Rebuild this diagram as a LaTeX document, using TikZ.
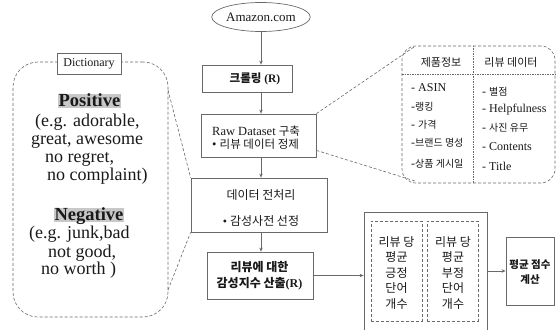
\documentclass[tikz,border=0pt]{standalone}
\usepackage{fontspec}
\setmainfont{Liberation Serif}
\newfontfamily\kr{Noto Sans CJK KR}
\usetikzlibrary{shapes.geometric,arrows.meta,calc}
\definecolor{linegray}{RGB}{105,105,105}
\definecolor{ink}{RGB}{25,25,25}
\definecolor{hl}{RGB}{200,200,200}
\begin{document}
\begin{tikzpicture}[x=1pt,y=-1pt,
  arr/.style={draw=linegray, line width=0.7pt, -{Stealth[length=4pt,width=3.5pt]}},
  dsh/.style={draw=linegray, dash pattern=on 3pt off 2pt, line width=0.6pt},
  dot/.style={draw=linegray, dash pattern=on 1.5pt off 1pt, line width=0.6pt},
  box/.style={draw=linegray, line width=0.8pt, fill=white, inner sep=0pt},
  txt/.style={text=ink, inner sep=0pt},
  hlbox/.style={fill=hl, text=ink, inner xsep=1pt, inner ysep=0.5pt, text height=12.5pt, text depth=1pt, font=\fontsize{18.5}{20}\selectfont\bfseries},
  dline/.style={txt, anchor=base west, font=\fontsize{18}{20}\selectfont},
  item/.style={txt, anchor=west},
]
\useasboundingbox (0,0) rectangle (559,329);
\clip (0,0) rectangle (559,329);

% Dictionary
\node[dsh, rounded corners=25pt, minimum width=155pt, minimum height=255pt, inner sep=0pt] (dict) at (90.5,189.5) {};
\node[box, minimum width=64pt, minimum height=21pt, text=ink, font=\fontsize{12}{14}\selectfont] (dlab) at (89,63.5) {Dictionary};
\node[hlbox] (pos) at (89.5,101) {Positive};
\node[dline] (p1) at (35,126) {(e.g. adorable,};
\node[dline] (p2) at (31,144) {great, awesome};
\node[dline] (p3) at (45,162) {no regret,};
\node[dline] (p4) at (47,180) {no complaint)};
\node[hlbox] (neg) at (89,215) {Negative};
\node[dline] (n1) at (29,238) {(e.g. junk,bad};
\node[dline] (n2) at (48,257) {not good,};
\node[dline] (n3) at (41,274) {no worth )};

% Main flow
\node[ellipse, draw=linegray, line width=0.7pt, minimum width=77pt, minimum height=29pt, inner sep=0pt, text=ink, font=\fontsize{13}{15}\selectfont] (amz) at (261,17) {Amazon.com};
\node[box, minimum width=90pt, minimum height=27pt] (crawl) at (247,78.5) {};
\node[txt, font=\fontsize{11.5}{13}\selectfont\bfseries] (crawlt) at (255,79) {{\kr\bfseries 크롤링} (R)};

\node[box, minimum width=115pt, minimum height=43pt] (raw) at (258.5,135.5) {};
\node[txt, anchor=west, align=left, font=\fontsize{12.5}{13.5}\selectfont] (rawt) at (212,137.5) {Raw Dataset {\kr\fontsize{11.5}{13.5}\selectfont 구축}\\• {\kr\fontsize{11.5}{13.5}\selectfont 리뷰 데이터 정제}};

\node[box, minimum width=136pt, minimum height=54pt] (pre) at (259,205) {};
\node[txt, align=center, font=\fontsize{12}{26}\selectfont] (pret) at (261,208) {{\kr 데이터 전처리}\\• {\kr 감성사전 선정}};

\node[box, minimum width=106pt, minimum height=47pt] (senti) at (260,275.5) {};
\node[txt, align=center, font=\fontsize{12}{16}\selectfont\bfseries] (sentit) at (259.5,276) {{\kr\bfseries 리뷰에 대한}\\{\kr\bfseries 감성지수 산출}(R)};

\node[box, minimum width=123pt, minimum height=128pt] (big) at (425.5,276) {};
\node[dsh, minimum width=51pt, minimum height=100pt, inner sep=0pt] (inl) at (396.5,271) {};
\node[dsh, minimum width=51pt, minimum height=100pt, inner sep=0pt] (inr) at (452.5,271) {};
\node[txt, align=center, font=\kr\fontsize{12}{15.5}\selectfont] (inlt) at (396.5,273) {리뷰 당\\평균\\긍정\\단어\\개수};
\node[txt, align=center, font=\kr\fontsize{12}{15.5}\selectfont] (inrt) at (453,273) {리뷰 당\\평균\\부정\\단어\\개수};

\node[box, minimum width=48pt, minimum height=68pt] (avg) at (530,271) {};
\node[txt, align=center, font=\kr\fontsize{10.5}{15}\selectfont\bfseries] (avgt) at (530,272.5) {평균 점수\\계산};

% Table
\node[dsh, rounded corners=14pt, minimum width=153pt, minimum height=137pt, inner sep=0pt] (tbl) at (478.5,114.5) {};
\draw[dot] (473,46) -- (473,183);
\draw[dot] (402,74) -- (555,74);
\node[txt, font=\kr\fontsize{11}{13}\selectfont] (h1) at (441,62) {제품정보};
\node[txt, font=\kr\fontsize{11}{13}\selectfont] (h2) at (511,62) {리뷰 데이터};
\node[item, font=\fontsize{12}{14}\selectfont] (l1) at (411,88) {- ASIN};
\node[item, font=\fontsize{12}{14}\selectfont] (l2) at (411,107) {-{\kr\fontsize{10}{12}\selectfont 랭킹}};
\node[item, font=\fontsize{12}{14}\selectfont] (l3) at (411,125) {- {\kr\fontsize{10}{12}\selectfont 가격}};
\node[item, font=\fontsize{12}{14}\selectfont] (l4) at (411,143) {-{\kr\fontsize{10}{12}\selectfont 브랜드 명성}};
\node[item, font=\fontsize{12}{14}\selectfont] (l5) at (411,164) {-{\kr\fontsize{10}{12}\selectfont 상품 게시일}};
\node[item, font=\fontsize{12}{14}\selectfont] (r1) at (482,92) {- {\kr\fontsize{10}{12}\selectfont 별점}};
\node[item, font=\fontsize{12}{14}\selectfont] (r2) at (482,110) {- Helpfulness};
\node[item, font=\fontsize{12}{14}\selectfont] (r3) at (482,128) {- {\kr\fontsize{10}{12}\selectfont 사진 유무}};
\node[item, font=\fontsize{12}{14}\selectfont] (r4) at (482,147) {- Contents};
\node[item, font=\fontsize{12}{14}\selectfont] (r5) at (482,166) {- Title};

% Connectors
\draw[arr] (amz.south) -- (amz.south |- crawl.north);
\draw[arr] (crawl.south -| amz.south) -- (raw.north -| amz.south);
\draw[arr] (raw.south -| amz.south) -- (pre.north -| amz.south);
\draw[arr] (pre.south -| amz.south) -- (senti.north -| amz.south);
\draw[arr] (senti.east) -- (senti.east -| big.west);
\draw[arr] (big.east |- avg.west) -- (avg.west);

\coordinate (d1) at (168,90);
\coordinate (d2) at (168,290);
\draw[dsh] (d1) -- (pre.north west);
\draw[dsh] (d2) -- (pre.south west);
\coordinate (t1) at (414,47);
\coordinate (t2) at (415,181);
\draw[dsh] (raw.north east) -- (t1);
\draw[dsh] ($(raw.south east)+(0,-7)$) -- (t2);
\end{tikzpicture}
\end{document}
